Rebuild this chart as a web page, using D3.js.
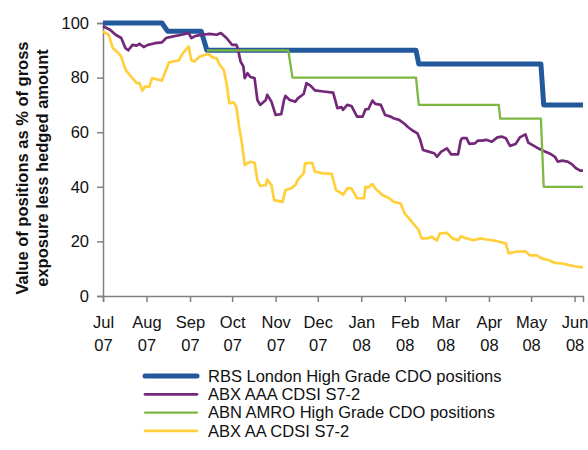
<!DOCTYPE html>
<html lang="en">
<head>
<meta charset="UTF-8">
<title>High grade CDO positions vs ABX</title>
<script src="https://cdn.jsdelivr.net/npm/d3@7"></script>
<style>
    html, body {
        margin: 0;
        background: #fff;
    }
    svg {
        display: block;
        font-family: "Liberation Sans", Arial, sans-serif;
    }
    .axis path, .axis line {
        stroke: #808080;
        stroke-width: 1.5;
    }
    .axis text {
        font-size: 16.5px;
        fill: #111;
    }
</style>
</head>
<body>
<script>

    // month ticks on the x axis
    var tickMonths = ["2007-07", "2007-08", "2007-09", "2007-10", "2007-11", "2007-12",
        "2008-01", "2008-02", "2008-03", "2008-04", "2008-05", "2008-06"];
    var yTicks = [0, 20, 40, 60, 80, 100];

    var seriesNames = ["RBS London High Grade CDO positions", "ABX AAA CDSI S7-2",
        "ABN AMRO High Grade CDO positions", "ABX AA CDSI S7-2"];

    // RBS London High Grade CDO positions
    var rbs = [["2007-07-01", 100], ["2007-08-12", 100], ["2007-08-16", 97], ["2007-09-09", 97],
        ["2007-09-13", 90], ["2008-02-09", 90], ["2008-02-11", 85], ["2008-05-08", 85],
        ["2008-05-10", 70], ["2008-06-07", 70]];

    // ABX AAA CDSI S7-2
    var abxAAA = [["2007-07-01", 98.8], ["2007-07-06", 97.5], ["2007-07-10", 95.7], ["2007-07-14", 94.5],
        ["2007-07-17", 90.8], ["2007-07-19", 90.0], ["2007-07-22", 92.0], ["2007-07-25", 91.7],
        ["2007-07-27", 92.4], ["2007-07-30", 91.2], ["2007-08-02", 92.0], ["2007-08-07", 92.6],
        ["2007-08-12", 92.9], ["2007-08-15", 94.5], ["2007-08-20", 95.1], ["2007-08-26", 95.7],
        ["2007-08-31", 96.3], ["2007-09-02", 94.5], ["2007-09-05", 95.3], ["2007-09-10", 95.7],
        ["2007-09-15", 96.0], ["2007-09-20", 95.7], ["2007-09-23", 96.3], ["2007-09-27", 94.5],
        ["2007-10-01", 92.0], ["2007-10-04", 92.0], ["2007-10-05", 90.8], ["2007-10-07", 85.9],
        ["2007-10-09", 84.1], ["2007-10-10", 79.8], ["2007-10-12", 81.6], ["2007-10-14", 80.2],
        ["2007-10-17", 79.8], ["2007-10-19", 71.8], ["2007-10-21", 70.0], ["2007-10-25", 71.8],
        ["2007-10-26", 73.7], ["2007-10-29", 71.2], ["2007-11-01", 66.3], ["2007-11-05", 66.6],
        ["2007-11-07", 71.8], ["2007-11-08", 73.3], ["2007-11-11", 71.8], ["2007-11-15", 71.2],
        ["2007-11-17", 72.5], ["2007-11-21", 74.0], ["2007-11-23", 78.0], ["2007-11-26", 77.0],
        ["2007-11-29", 75.3], ["2007-12-05", 74.9], ["2007-12-12", 74.5], ["2007-12-15", 68.8],
        ["2007-12-18", 69.2], ["2007-12-19", 68.2], ["2007-12-22", 70.0], ["2007-12-25", 69.6],
        ["2007-12-29", 65.7], ["2008-01-02", 65.7], ["2008-01-04", 68.4], ["2008-01-06", 68.4],
        ["2008-01-09", 71.6], ["2008-01-11", 70.4], ["2008-01-15", 70.0], ["2008-01-18", 66.3],
        ["2008-01-22", 65.7], ["2008-01-24", 65.1], ["2008-01-28", 64.5], ["2008-02-01", 63.0],
        ["2008-02-03", 62.0], ["2008-02-06", 60.8], ["2008-02-10", 59.6], ["2008-02-12", 57.2],
        ["2008-02-14", 53.5], ["2008-02-18", 52.9], ["2008-02-22", 52.3], ["2008-02-24", 51.0],
        ["2008-02-27", 52.9], ["2008-03-02", 54.1], ["2008-03-05", 51.9], ["2008-03-10", 51.9],
        ["2008-03-12", 57.2], ["2008-03-13", 57.8], ["2008-03-16", 57.8], ["2008-03-18", 55.7],
        ["2008-03-22", 55.9], ["2008-03-24", 56.9], ["2008-03-27", 56.9], ["2008-03-30", 57.2],
        ["2008-04-03", 56.5], ["2008-04-07", 58.1], ["2008-04-10", 58.4], ["2008-04-13", 57.8],
        ["2008-04-16", 55.0], ["2008-04-20", 55.7], ["2008-04-23", 58.1], ["2008-04-27", 59.2],
        ["2008-04-29", 56.2], ["2008-05-04", 54.7], ["2008-05-06", 54.1], ["2008-05-10", 53.1],
        ["2008-05-15", 52.0], ["2008-05-18", 51.0], ["2008-05-20", 49.2], ["2008-05-23", 49.6],
        ["2008-05-27", 49.2], ["2008-05-30", 48.3], ["2008-06-02", 46.8], ["2008-06-05", 45.9],
        ["2008-06-07", 45.9]];

    // ABN AMRO High Grade CDO positions
    var abn = [["2007-09-13", 90], ["2007-11-10", 90], ["2007-11-13", 80], ["2008-02-09", 80],
        ["2008-02-11", 70], ["2008-04-08", 70], ["2008-04-09", 65], ["2008-05-08", 65],
        ["2008-05-10", 40], ["2008-06-07", 40]];

    // ABX AA CDSI S7-2
    var abxAA = [["2007-07-01", 96.9], ["2007-07-05", 95.7], ["2007-07-08", 90.8], ["2007-07-12", 89.0],
        ["2007-07-14", 87.7], ["2007-07-17", 82.9], ["2007-07-20", 81.0], ["2007-07-23", 79.2],
        ["2007-07-25", 78.0], ["2007-07-27", 78.0], ["2007-07-29", 75.2], ["2007-07-31", 76.7],
        ["2007-08-03", 76.7], ["2007-08-05", 79.8], ["2007-08-08", 79.4], ["2007-08-12", 78.9],
        ["2007-08-14", 81.6], ["2007-08-17", 85.5], ["2007-08-20", 85.9], ["2007-08-24", 86.3],
        ["2007-08-27", 89.0], ["2007-08-31", 91.4], ["2007-09-02", 86.3], ["2007-09-04", 85.9],
        ["2007-09-08", 87.7], ["2007-09-12", 88.4], ["2007-09-14", 88.7], ["2007-09-17", 87.4],
        ["2007-09-20", 87.1], ["2007-09-22", 84.8], ["2007-09-25", 82.9], ["2007-09-27", 78.0],
        ["2007-09-29", 70.6], ["2007-10-02", 70.9], ["2007-10-04", 69.4], ["2007-10-06", 62.0],
        ["2007-10-08", 55.9], ["2007-10-10", 48.0], ["2007-10-14", 49.2], ["2007-10-17", 48.8],
        ["2007-10-19", 42.5], ["2007-10-21", 40.3], ["2007-10-25", 40.6], ["2007-10-26", 42.7],
        ["2007-10-29", 40.6], ["2007-10-31", 35.1], ["2007-11-06", 34.5], ["2007-11-08", 38.8],
        ["2007-11-12", 39.4], ["2007-11-15", 40.6], ["2007-11-17", 42.7], ["2007-11-21", 44.9],
        ["2007-11-22", 48.6], ["2007-11-27", 48.8], ["2007-11-29", 45.5], ["2007-12-05", 44.9],
        ["2007-12-11", 44.7], ["2007-12-14", 38.8], ["2007-12-18", 37.6], ["2007-12-19", 37.0],
        ["2007-12-22", 39.4], ["2007-12-25", 39.4], ["2007-12-29", 35.8], ["2008-01-03", 35.8],
        ["2008-01-04", 40.0], ["2008-01-06", 39.8], ["2008-01-09", 41.0], ["2008-01-11", 39.4],
        ["2008-01-16", 37.0], ["2008-01-21", 35.8], ["2008-01-24", 34.5], ["2008-01-29", 33.9],
        ["2008-02-01", 30.2], ["2008-02-04", 28.4], ["2008-02-08", 26.0], ["2008-02-11", 24.1],
        ["2008-02-13", 21.1], ["2008-02-17", 21.1], ["2008-02-20", 21.7], ["2008-02-24", 20.4],
        ["2008-02-26", 22.9], ["2008-03-02", 23.1], ["2008-03-06", 21.1], ["2008-03-10", 20.4],
        ["2008-03-12", 21.9], ["2008-03-16", 21.1], ["2008-03-21", 20.4], ["2008-03-26", 21.1],
        ["2008-03-30", 20.7], ["2008-04-04", 20.4], ["2008-04-09", 19.8], ["2008-04-13", 19.2],
        ["2008-04-15", 15.6], ["2008-04-20", 16.2], ["2008-04-27", 16.4], ["2008-04-30", 14.9],
        ["2008-05-05", 14.9], ["2008-05-09", 13.7], ["2008-05-14", 13.1], ["2008-05-18", 12.1],
        ["2008-05-23", 11.9], ["2008-05-28", 11.3], ["2008-06-01", 10.9], ["2008-06-05", 10.6],
        ["2008-06-07", 10.6]];

    var parseDay = d3.timeParse("%Y-%m-%d");
    var parseMonth = d3.timeParse("%Y-%m");

    var width = 588, height = 450;
    var margin = {left: 103, right: 5, top: 23, bottom: 154};

    var x = d3.scaleTime()
        .domain([parseDay("2007-07-01"), parseDay("2008-06-07")])
        .range([margin.left, width - margin.right]);

    var y = d3.scaleLinear()
        .domain([0, 100])
        .range([height - margin.bottom, margin.top]);

    var series = [
        {name: seriesNames[0], data: rbs, color: "#22599c", width: 5},
        {name: seriesNames[1], data: abxAAA, color: "#74287a", width: 2.7},
        {name: seriesNames[2], data: abn, color: "#7db843", width: 2.3},
        {name: seriesNames[3], data: abxAA, color: "#ffd03c", width: 2.7}
    ];

    var svg = d3.select("body").append("svg")
        .attr("width", width)
        .attr("height", height);

    // y axis
    svg.append("g")
        .attr("class", "axis y")
        .attr("transform", "translate(" + margin.left + ",0)")
        .call(d3.axisLeft(y).tickValues(yTicks).tickSize(6).tickPadding(8));

    // x axis, month name over two-digit year
    var xAxis = svg.append("g")
        .attr("class", "axis x")
        .attr("transform", "translate(0," + y(0) + ")")
        .call(d3.axisBottom(x).tickValues(tickMonths.map(parseMonth)).tickSize(6).tickFormat(""));

    xAxis.selectAll(".tick text").remove();
    xAxis.selectAll(".tick").each(function (d) {
        var t = d3.select(this).append("text")
            .attr("text-anchor", "middle")
            .attr("fill", "#111");
        t.append("tspan").attr("x", 0).attr("y", 32).text(d3.timeFormat("%b")(d));
        t.append("tspan").attr("x", 0).attr("y", 55).text(d3.timeFormat("%y")(d));
    });

    // y axis title
    var title = svg.append("text")
        .attr("transform", "translate(28,168) rotate(-90)")
        .attr("text-anchor", "middle")
        .style("font-size", "16.5px")
        .style("font-weight", "bold")
        .attr("fill", "#111");
    title.append("tspan").attr("x", 0).attr("y", 0).text("Value of positions as % of gross");
    title.append("tspan").attr("x", 0).attr("y", 20).text("exposure less hedged amount");

    var line = d3.line()
        .x(function (d) { return x(parseDay(d[0])); })
        .y(function (d) { return y(d[1]); });

    svg.append("g").selectAll("path")
        .data(series)
        .enter().append("path")
        .attr("d", function (s) { return line(s.data); })
        .attr("fill", "none")
        .attr("stroke", function (s) { return s.color; })
        .attr("stroke-width", function (s) { return s.width; })
        .attr("stroke-linejoin", "round");

    // legend
    var legend = svg.append("g").selectAll("g")
        .data(series)
        .enter().append("g")
        .attr("transform", function (s, i) { return "translate(145," + (376 + i * 18.3) + ")"; });

    legend.append("line")
        .attr("x1", 0).attr("x2", 52)
        .attr("stroke", function (s) { return s.color; })
        .attr("stroke-width", function (s) { return s.width; })
        .attr("stroke-linecap", "round");

    legend.append("text")
        .attr("x", 63)
        .attr("dy", "0.35em")
        .style("font-size", "16.5px")
        .attr("fill", "#111")
        .text(function (s) { return s.name; });

</script>
</body>
</html>
